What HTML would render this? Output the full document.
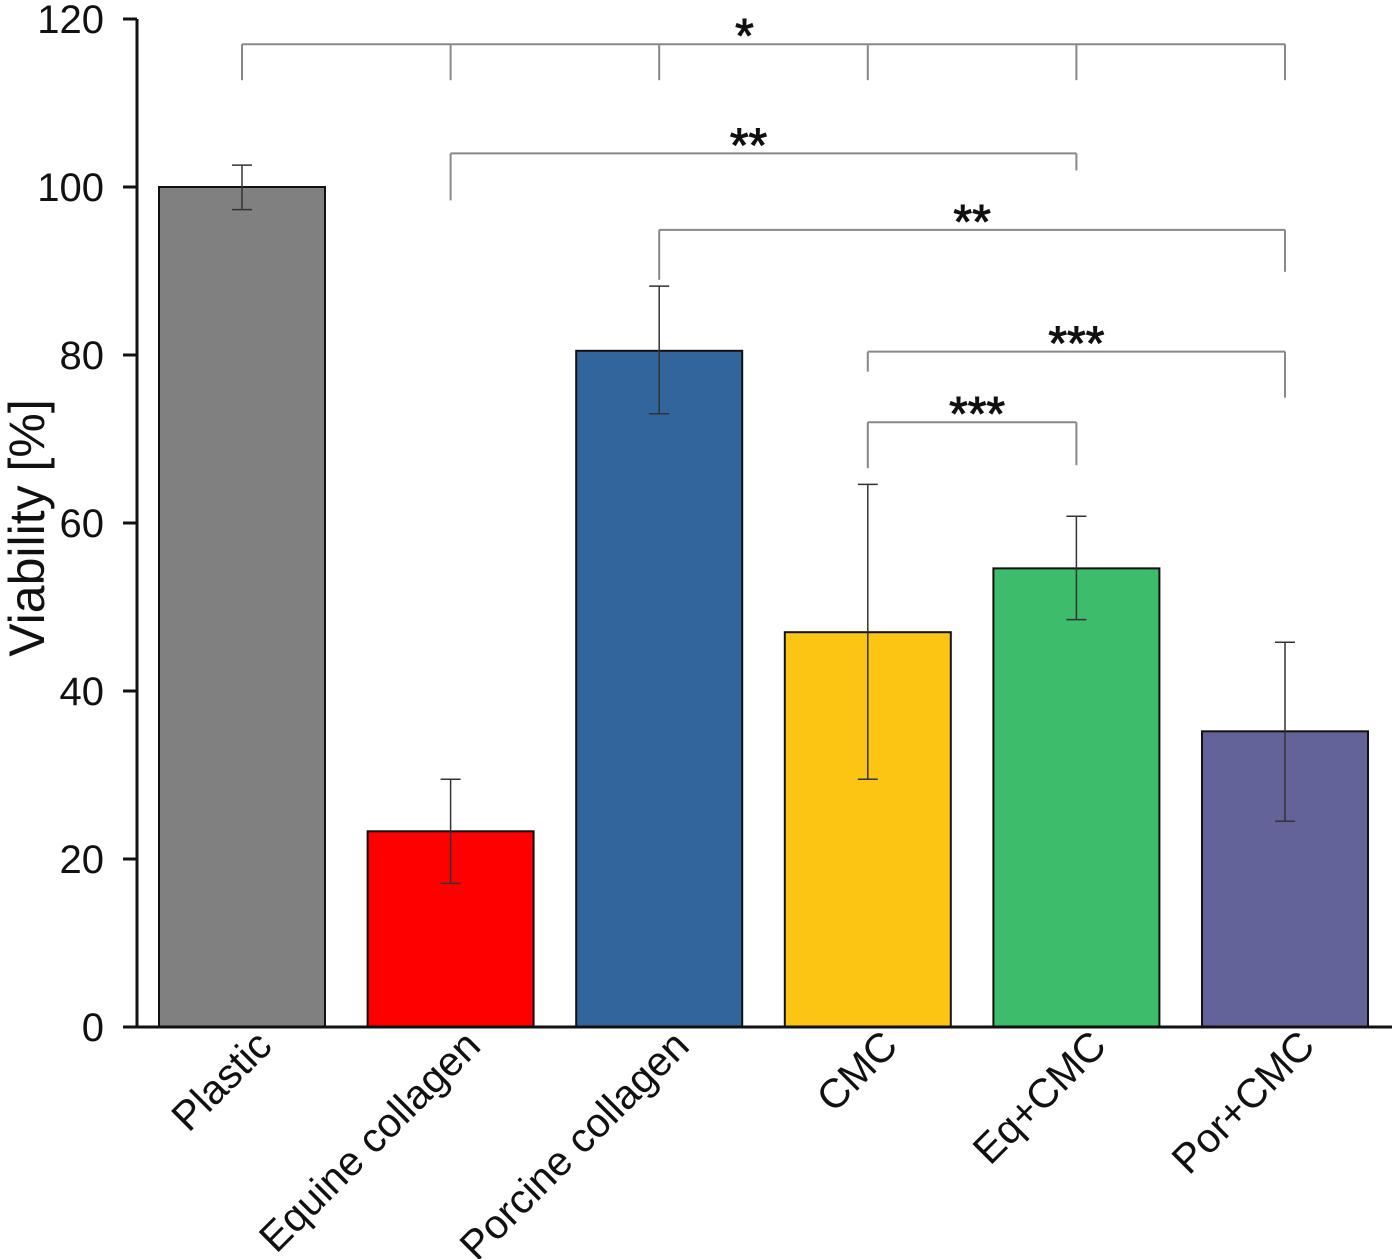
<!DOCTYPE html>
<html><head><meta charset="utf-8"><style>
body{margin:0;background:#fff;}
svg{display:block;font-family:"Liberation Sans",Arial,sans-serif;}
</style></head><body>
<svg id="chart" width="1392" height="1259" viewBox="0 0 1392 1259">
<g id="bars"></g>
<g id="errs"></g>
<g id="axes"></g>
<g id="sig"></g>
<text transform="translate(44,528) rotate(-90)" text-anchor="middle" font-size="50" fill="#111">Viability [%]</text>
</svg>
<script>
const categories=["Plastic","Equine collagen","Porcine collagen","CMC","Eq+CMC","Por+CMC"];
const values=[100,23.3,80.5,47.0,54.6,35.2];
const errLow=[97.3,17.1,73.0,29.5,48.5,24.5];
const errHigh=[102.6,29.5,88.2,64.6,60.8,45.8];
const colors=["#808080","#ff0000","#31659c","#fdc513","#3dbd6b","#636399"];
const yTicks=[0,20,40,60,80,100,120];
const brackets=[[0,1,2,3,4,5],[1,4],[2,5],[3,5],[3,4]];
const bracketY=[117,104.0,94.9,80.4,72.0];
const bracketLabels=["*","**","**","***","***"];
const dropPx=[[36,36,36,36,36,36],[47,17],[50,42],[20,46],[46,43]];
const labelShift=[-19,-15,0,0,5];
const NS="http://www.w3.org/2000/svg";
const y=v=>1027-v*8.4;
const xc=i=>242+i*208.6;
const bw=166;
function mk(tag,attrs,parent,txt){const e=document.createElementNS(NS,tag);for(const k in attrs)e.setAttribute(k,attrs[k]);if(txt!==undefined)e.textContent=txt;(typeof parent==='string'?document.getElementById(parent):parent).appendChild(e);return e;}
categories.forEach((c,i)=>{
 const r=mk('rect',{x:xc(i)-bw/2,y:y(values[i]),width:bw,height:y(0)-y(values[i]),fill:colors[i],stroke:"#111","stroke-width":2},'bars');
 
 
 const g=mk('g',{stroke:"#333","stroke-width":1.5},'errs');
 
 
 mk('line',{x1:xc(i),x2:xc(i),y1:y(errLow[i]),y2:y(errHigh[i])},g);
 [errLow[i],errHigh[i]].forEach(v=>mk('line',{x1:xc(i)-10,x2:xc(i)+10,y1:y(v),y2:y(v)},g));
 const t=mk('text',{transform:`translate(${xc(i)+32},${1048}) rotate(-45)`,"text-anchor":"end","font-size":41,fill:"#111"},'axes',c);
 
 
});
const ax=mk('path',{d:"M137,19 V1027 H1392",fill:"none",stroke:"#111","stroke-width":3},'axes');


yTicks.forEach(v=>{
 mk('line',{x1:123,x2:137,y1:y(v),y2:y(v),stroke:"#111","stroke-width":3},'axes');
 const t=mk('text',{x:104,y:y(v)+14,"text-anchor":"end","font-size":40,fill:"#111"},'axes',v);
 
 
});
brackets.forEach((b,k)=>{
 const by=y(bracketY[k]);
 const g=mk('g',{stroke:"#888","stroke-width":2,fill:"none"},'sig');
 
 
 const x1=xc(b[0]),x2=xc(b[b.length-1]);
 mk('line',{x1:x1,x2:x2,y1:by,y2:by},g);
 b.forEach((i,j)=>mk('line',{x1:xc(i),x2:xc(i),y1:by,y2:by+dropPx[k][j]},g));
 const t=mk('text',{x:(x1+x2)/2+labelShift[k],y:by+8,"text-anchor":"middle","font-size":48,fill:"#111",stroke:"#111","stroke-width":1},'sig',bracketLabels[k]);
 
 
});
</script>
</body></html>
